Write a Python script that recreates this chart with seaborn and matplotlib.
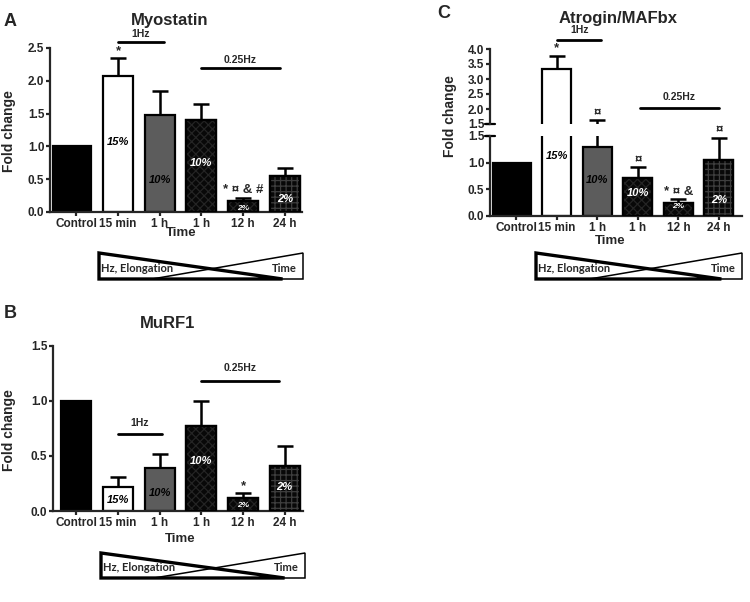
import numpy as np
import pandas as pd
import matplotlib
matplotlib.use("Agg")
import matplotlib.pyplot as plt
import seaborn as sns
from matplotlib.patches import Polygon

# data
groups = ["Control", "15 min", "1 h (1Hz)", "1 h (0.25Hz)", "12 h", "24 h"]
tick_labels = ["Control", "15 min", "1 h", "1 h", "12 h", "24 h"]
pct_labels = ["", "15%", "10%", "10%", "2%", "2%"]

myostatin = [1.0, 2.07, 1.48, 1.41, 0.17, 0.55]
myostatin_top = [1.0, 2.35, 1.84, 1.64, 0.22, 0.67]
myostatin_sig = ["", "*", "", "", "* ¤ & #", ""]

murf1 = [1.0, 0.22, 0.39, 0.77, 0.12, 0.41]
murf1_top = [1.0, 0.31, 0.52, 1.00, 0.16, 0.59]
murf1_sig = ["", "", "", "", "*", ""]

atrogin = [1.0, 3.35, 1.29, 0.72, 0.24, 1.05]
atrogin_top = [1.0, 3.78, 1.62, 0.91, 0.32, 1.47]
atrogin_sig = ["", "*", "¤", "¤", "* ¤ &", "¤"]

# bar styles
bar_faces = ["black", "white", "#5c5c5c", "#080808", "#080808", "#080808"]
bar_hatches = [None, None, None, "xxxx", "xxxx", "+++"]
hatch_colors = [None, None, None, "#242424", "#242424", "#3e3e3e"]
pct_colors = ["white", "black", "black", "white", "white", "white"]
pct_sizes = [8, 8, 8, 8, 6, 8]
BAR_W = 0.72

sns.set_theme(style="ticks")
plt.rcParams["font.family"] = ["Liberation Sans", "DejaVu Sans"]
plt.rcParams["font.weight"] = "bold"
plt.rcParams["hatch.linewidth"] = 0.9

W, H = 750, 602
fig = plt.figure(figsize=(W / 100, H / 100), dpi=100)
pos = np.arange(len(groups))


def px_axes(l, t, r, b):
    return fig.add_axes([l / W, 1 - b / H, (r - l) / W, (b - t) / H])


def ftext(x, y, s, **kw):
    kw.setdefault("ha", "center")
    kw.setdefault("va", "center")
    fig.text(x / W, 1 - y / H, s, **kw)


def draw_bars(ax, vals, tops, wide_control=False, err_min=None):
    df = pd.DataFrame({"group": groups, "value": vals})
    sns.barplot(data=df, x="group", y="value", hue="group", order=groups,
                hue_order=groups, palette=bar_faces, saturation=1, width=BAR_W,
                edgecolor="black", linewidth=1.6, errorbar=None, legend=False,
                ax=ax, zorder=2)
    if wide_control:
        p = ax.patches[0]
        p.set_x(-0.57)
        p.set_width(0.93)
    for i, h in enumerate(bar_hatches):
        if h:
            ax.bar(pos[i], vals[i], BAR_W, fill=False, hatch=h,
                   edgecolor=hatch_colors[i], linewidth=0, zorder=2.5)
            ax.bar(pos[i], vals[i], BAR_W, fill=False, edgecolor="black",
                   linewidth=1.6, zorder=2.6)
    v = np.array(vals)
    t = np.array(tops)
    keep = pos > 0
    if err_min is not None:
        keep &= t > err_min
    ax.errorbar(pos[keep], v[keep], yerr=[np.zeros(keep.sum()), (t - v)[keep]],
                fmt="none", ecolor="black", elinewidth=1.8, capsize=6,
                capthick=1.8, zorder=1.5)


def style_axes(ax, ymin, ymax, yticks, xlim, bottom=True):
    ax.set_xlim(*xlim)
    ax.set_ylim(ymin, ymax)
    ax.set_yticks(yticks)
    ax.set_yticklabels([f"{t:.1f}" for t in yticks])
    ax.set_xlabel("")
    ax.set_ylabel("")
    sns.despine(ax=ax, bottom=not bottom)
    for s in ["left", "bottom"]:
        ax.spines[s].set_linewidth(1.6)
    ax.tick_params(direction="out", length=3, width=1.6, labelsize=8.5, pad=1)
    if bottom:
        ax.set_xticks(pos)
        ax.set_xticklabels(tick_labels)
    else:
        ax.set_xticks([])


def pct_text(ax, ys):
    for i, (s, y) in enumerate(zip(pct_labels, ys)):
        if s:
            ax.text(i, y, s, ha="center", va="center", color=pct_colors[i],
                    style="italic", fontsize=pct_sizes[i], zorder=5)


def sig_text(ax, tops, sig, idx=None):
    for i, s in enumerate(sig):
        if s and (idx is None or i in idx):
            ax.annotate(s, (i, tops[i]), xytext=(0, 3), textcoords="offset points",
                        ha="center", va="baseline", fontsize=9.5, zorder=5,
                        annotation_clip=False)


def freq_bar(ax, x0, x1, y, ty, label):
    ax.plot([x0, x1], [y, y], color="black", lw=2, clip_on=False)
    ax.text((x0 + x1) / 2, ty, label, ha="center", va="center", fontsize=7.5,
            clip_on=False)


def wedge(l, t, r, b):
    ax = px_axes(l, t, r, b)
    ax.set_xlim(0, 1)
    ax.set_ylim(0, 1)
    ax.axis("off")
    ax.add_patch(Polygon([(0.26, 0), (1, 1), (1, 0)], closed=True, fill=False,
                         edgecolor="black", lw=1.1, clip_on=False))
    ax.add_patch(Polygon([(0, 1), (0, 0), (0.9, 0)], closed=True, fill=False,
                         edgecolor="black", lw=2.4, clip_on=False))
    ax.text(0.012, 0.42, "Hz, Elongation", ha="left", va="center",
            family=["Lato", "DejaVu Sans"], fontsize=8)
    ax.text(0.97, 0.42, "Time", ha="right", va="center",
            family=["Lato", "DejaVu Sans"], fontsize=8)


# ---- A: Myostatin ----
axA = px_axes(50, 48, 302, 212)
draw_bars(axA, myostatin, myostatin_top, wide_control=True)
style_axes(axA, 0, 2.5, [0, 0.5, 1.0, 1.5, 2.0, 2.5], (-0.63, 5.41))
pct_text(axA, [0, 1.07, 0.49, 0.75, 0.06, 0.2])
sig_text(axA, myostatin_top, myostatin_sig)
freq_bar(axA, 1.0, 2.1, 2.59, 2.72, "1Hz")
freq_bar(axA, 2.99, 4.88, 2.195, 2.31, "0.25Hz")
ftext(9, 131, "Fold change", rotation=90, fontsize=10)
ftext(181, 233, "Time", fontsize=9.5)
ftext(170, 21, "Myostatin", fontsize=12)
ftext(10, 21, "A", fontsize=13)
wedge(99, 253, 303, 279)

# ---- B: MuRF1 ----
axB = px_axes(53, 346, 303, 511)
draw_bars(axB, murf1, murf1_top)
style_axes(axB, 0, 1.5, [0, 0.5, 1.0, 1.5], (-0.56, 5.44))
pct_text(axB, [0, 0.1, 0.16, 0.45, 0.05, 0.22])
sig_text(axB, murf1_top, murf1_sig)
freq_bar(axB, 1.0, 2.06, 0.70, 0.80, "1Hz")
freq_bar(axB, 3.0, 4.86, 1.18, 1.30, "0.25Hz")
ftext(9, 430, "Fold change", rotation=90, fontsize=10)
ftext(180, 539, "Time", fontsize=9.5)
ftext(168, 323, "MuRF1", fontsize=12)
ftext(10, 314, "B", fontsize=13)
wedge(101, 553, 305, 578)

# ---- C: Atrogin/MAFbx (broken axis) ----
axC = px_axes(490, 136, 742, 216)
draw_bars(axC, atrogin, atrogin_top, wide_control=True)
style_axes(axC, 0, 1.5, [0, 0.5, 1.0, 1.5], (-0.65, 5.57))
pct_text(axC, [0, 1.12, 0.68, 0.43, 0.17, 0.3])
sig_text(axC, atrogin_top, atrogin_sig, idx=[3, 4, 5])

axCu = px_axes(490, 49, 742, 124)
draw_bars(axCu, atrogin, atrogin_top, err_min=1.5)
style_axes(axCu, 1.5, 4.0, [1.5, 2.0, 2.5, 3.0, 3.5, 4.0], (-0.65, 5.57),
           bottom=False)
sig_text(axCu, atrogin_top, atrogin_sig, idx=[1, 2])
freq_bar(axCu, 1.0, 2.1, 4.3, 4.63, "1Hz")
freq_bar(axCu, 3.05, 5.0, 2.03, 2.4, "0.25Hz")
# break markers on the y axis
axC.plot([-0.02, 0.02], [1, 1], transform=axC.transAxes, color="black",
         lw=1.6, clip_on=False)
axCu.plot([-0.02, 0.02], [0, 0], transform=axCu.transAxes, color="black",
          lw=1.6, clip_on=False)
ftext(450, 116, "Fold change", rotation=90, fontsize=10)
ftext(610, 241, "Time", fontsize=9.5)
ftext(618, 18, "Atrogin/MAFbx", fontsize=12)
ftext(444, 14, "C", fontsize=13)
wedge(536, 253, 742, 279)

fig.savefig("out.png", dpi=100)
